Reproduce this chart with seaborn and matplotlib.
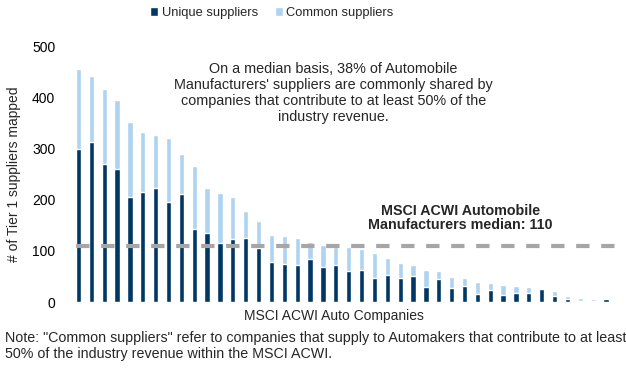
import matplotlib
matplotlib.use("Agg")
import matplotlib.pyplot as plt
from matplotlib.patches import Patch
import numpy as np
import pandas as pd
import seaborn as sns

# Tier 1 suppliers mapped per company, sorted by total
unique = [298, 313, 270, 260, 205, 215, 222, 196, 212, 143, 134, 116, 123,
          125, 105, 78, 74, 72, 84, 69, 72, 61, 62, 48, 52, 47, 51, 29,
          45, 27, 32, 16, 23, 14, 18, 18, 25, 12, 7, 2, 3, 6, 3]
common = [157, 129, 146, 135, 147, 117, 105, 124, 77, 123, 89, 97, 83,
          53, 53, 53, 55, 54, 33, 42, 36, 47, 41, 47, 34, 29, 22, 33,
          15, 22, 15, 23, 15, 19, 13, 11, 1, 9, 5, 6, 3, 0, 0]
median_value = 110

companies = [f"C{i + 1}" for i in range(len(unique))]
df = pd.DataFrame({"company": companies, "unique": unique, "common": common})
df["total"] = df["unique"] + df["common"]

DARK = "#003764"
LIGHT = "#AED3F0"

sns.set_theme(style="white")
plt.rcParams["font.family"] = ["Liberation Sans", "DejaVu Sans"]

fig = plt.figure(figsize=(6.26, 3.68), dpi=100)
ax = fig.add_axes([0.115, 0.179, 0.884, 0.696])

# stacked bars: total in light blue, unique overlaid in navy
sns.barplot(data=df, x="company", y="total", color=LIGHT, width=0.41,
            saturation=1, ax=ax)
sns.barplot(data=df, x="company", y="unique", color=DARK, width=0.41,
            saturation=1, ax=ax)

ax.axhline(median_value, color="#A6A6A6", lw=3, ls=(5.0, (3.2, 2.8)),
           zorder=3)

ax.set_xlim(-0.5, len(unique) - 0.5)
ax.set_ylim(0, 500)
ax.set_yticks([0, 100, 200, 300, 400, 500])
ax.tick_params(axis="y", labelsize=10, length=0, pad=12, colors="#000000")
ax.set_xticks([])
ax.set_xlabel("")
ax.set_ylabel("")
for s in ax.spines.values():
    s.set_visible(False)

fig.text(14 / 626, 1 - 174 / 368, "# of Tier 1 suppliers mapped",
         rotation=90, ha="center", va="center", fontsize=10)
fig.text(334 / 626, 1 - 316 / 368, "MSCI ACWI Auto Companies",
         ha="center", va="center", fontsize=10)

ax.text(19.8, 409,
        "On a median basis, 38% of Automobile\n"
        "Manufacturers' suppliers are commonly shared by\n"
        "companies that contribute to at least 50% of the\n"
        "industry revenue.",
        ha="center", va="center", fontsize=10.4, linespacing=1.18)
ax.text(29.7, 164, "MSCI ACWI Automobile\nManufacturers median: 110",
        ha="center", va="center", fontsize=10.3, fontweight="bold",
        linespacing=1.05)

handles = [Patch(facecolor=DARK, label="Unique suppliers"),
           Patch(facecolor=LIGHT, label="Common suppliers")]
fig.legend(handles=handles, loc="center", bbox_to_anchor=(272 / 626, 1 - 13 / 368),
           ncol=2, frameon=False, fontsize=9.3, handlelength=0.6,
           handleheight=0.7, handletextpad=0.3, columnspacing=1.3)

fig.text(5 / 626, 1 - 346 / 368,
         'Note: "Common suppliers" refer to companies that supply to Automakers that contribute to at least\n'
         '50% of the industry revenue within the MSCI ACWI.',
         ha="left", va="center", fontsize=10.25, linespacing=1.22)

fig.savefig("out.png", dpi=100)
